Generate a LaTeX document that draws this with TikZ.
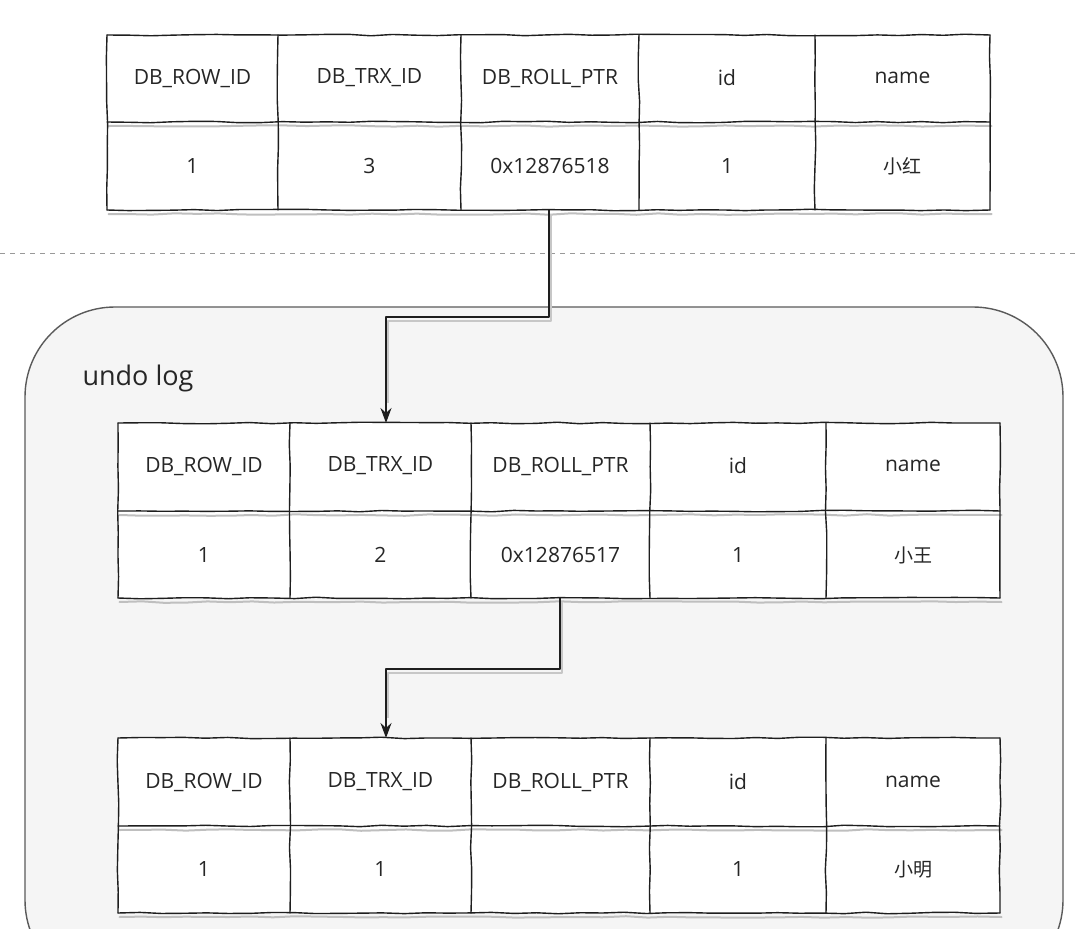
\documentclass[tikz,border=0pt]{standalone}
\usepackage{fontspec}
\setmainfont{Open Sans}
\newfontfamily\cjk{Noto Sans CJK SC}
\usetikzlibrary{arrows.meta,decorations.pathmorphing}
\definecolor{boxfill}{HTML}{F5F5F5}
\definecolor{boxline}{HTML}{5A5A5A}
\definecolor{ink}{HTML}{1E1E1E}
\definecolor{txt}{HTML}{262626}
\newcommand{\drawtable}[6]{%
  % #1 left x, #2 right x, #3 inner x list, #4 top y, #5 mid y, #6 bottom y
  \fill[white] (#1,#4) rectangle (#2,#6);
  \begin{scope}[shift={(1.5,4)}]
    \draw[shadowline,sketch] (#1,#5) -- (#2,#5);
    \draw[shadowline,sketch] (#1,#6) -- (#2,#6);
  \end{scope}
  \draw[tline,sketch] (#1,#4) -- (#2,#4);
  \draw[tline,sketch] (#1,#5) -- (#2,#5);
  \draw[tline,sketch] (#1,#6) -- (#2,#6);
  \foreach \xx in {#1,#3,#2} \draw[tline,sketch] (\xx,#4) -- (\xx,#6);
}
\begin{document}
\begin{tikzpicture}[x=1pt,y=-1pt,
  sketch/.style={decorate,decoration={random steps,segment length=22pt,amplitude=0.8pt}},
  tline/.style={draw=ink,line width=1.4pt,line join=round,line cap=round},
  shadowline/.style={draw=black!25,line width=2pt,line cap=round},
  cell/.style={inner sep=0pt,text=txt,font=\fontsize{21}{24}\selectfont},
  cjkcell/.style={cell,font=\cjk\fontsize{19}{22}\selectfont},
  conn/.style={draw=ink,line width=1.5pt,line join=round,-{Stealth[length=15pt,width=11pt]}},
  connshadow/.style={draw=black!22,line width=2pt,line join=round}]
\pgfmathsetseed{11}
\useasboundingbox (0,0) rectangle (1080,929);
\clip (0,0) rectangle (1080,929);
\fill[white] (0,0) rectangle (1080,929);

% separator
\draw[black!40,line width=1pt,dash pattern=on 5pt off 5pt] (0,253) -- (1080,253);

% undo log container
\draw[fill=boxfill,draw=boxline,line width=1.4pt,rounded corners=90pt] (25,307) rectangle (1063,990);
\node[anchor=west,text=txt,font=\fontsize{27}{30}\selectfont] (undolbl) at (79,378) {undo log};

% ---------- table 1 ----------
\drawtable{107}{990}{278,461,639,815}{35}{122}{210}
\foreach \i/\a/\b/\t in {1/107/278/DB\_ROW\_ID,2/278/461/DB\_TRX\_ID,3/461/639/DB\_ROLL\_PTR,4/639/815/id,5/815/990/name}
  \node[cell] (t1h\i) at ({(\a+\b)/2},78) {\t};
\foreach \i/\a/\b/\t in {1/107/278/1,2/278/461/3,3/461/639/0x12876518,4/639/815/1}
  \node[cell] (t1v\i) at ({(\a+\b)/2},166) {\t};
\node[cjkcell] (t1v5) at (902,166) {小红};
\coordinate (t1v3s) at (549,210);

% ---------- table 2 ----------
\drawtable{118}{1000}{290,471,650,826}{423}{511}{598}
\foreach \i/\a/\b/\t in {1/118/290/DB\_ROW\_ID,2/290/471/DB\_TRX\_ID,3/471/650/DB\_ROLL\_PTR,4/650/826/id,5/826/1000/name}
  \node[cell] (t2h\i) at ({(\a+\b)/2},466) {\t};
\foreach \i/\a/\b/\t in {1/118/290/1,2/290/471/2,3/471/650/0x12876517,4/650/826/1}
  \node[cell] (t2v\i) at ({(\a+\b)/2},555) {\t};
\node[cjkcell] (t2v5) at (913,555) {小王};
\coordinate (t2top) at (386,423);
\coordinate (t2v3s) at (560,598);

% ---------- table 3 ----------
\drawtable{118}{1000}{290,471,650,826}{738}{826}{913}
\foreach \i/\a/\b/\t in {1/118/290/DB\_ROW\_ID,2/290/471/DB\_TRX\_ID,3/471/650/DB\_ROLL\_PTR,4/650/826/id,5/826/1000/name}
  \node[cell] (t3h\i) at ({(\a+\b)/2},782) {\t};
\foreach \i/\a/\b/\t in {1/118/290/1,2/290/471/1,4/650/826/1}
  \node[cell] (t3v\i) at ({(\a+\b)/2},869) {\t};
\node[cjkcell] (t3v5) at (913,869) {小明};
\coordinate (t3top) at (386,738);

% ---------- connectors ----------
\draw[connshadow] ([shift={(2,4)}]t1v3s) -- ++(0,107) -| ([shift={(2,-20)}]t2top);
\draw[conn] (t1v3s) -- ++(0,107) -| (t2top);
\draw[connshadow] ([shift={(2,4)}]t2v3s) -- ++(0,71) -| ([shift={(2,-20)}]t3top);
\draw[conn] (t2v3s) -- ++(0,71) -| (t3top);
\end{tikzpicture}
\end{document}
